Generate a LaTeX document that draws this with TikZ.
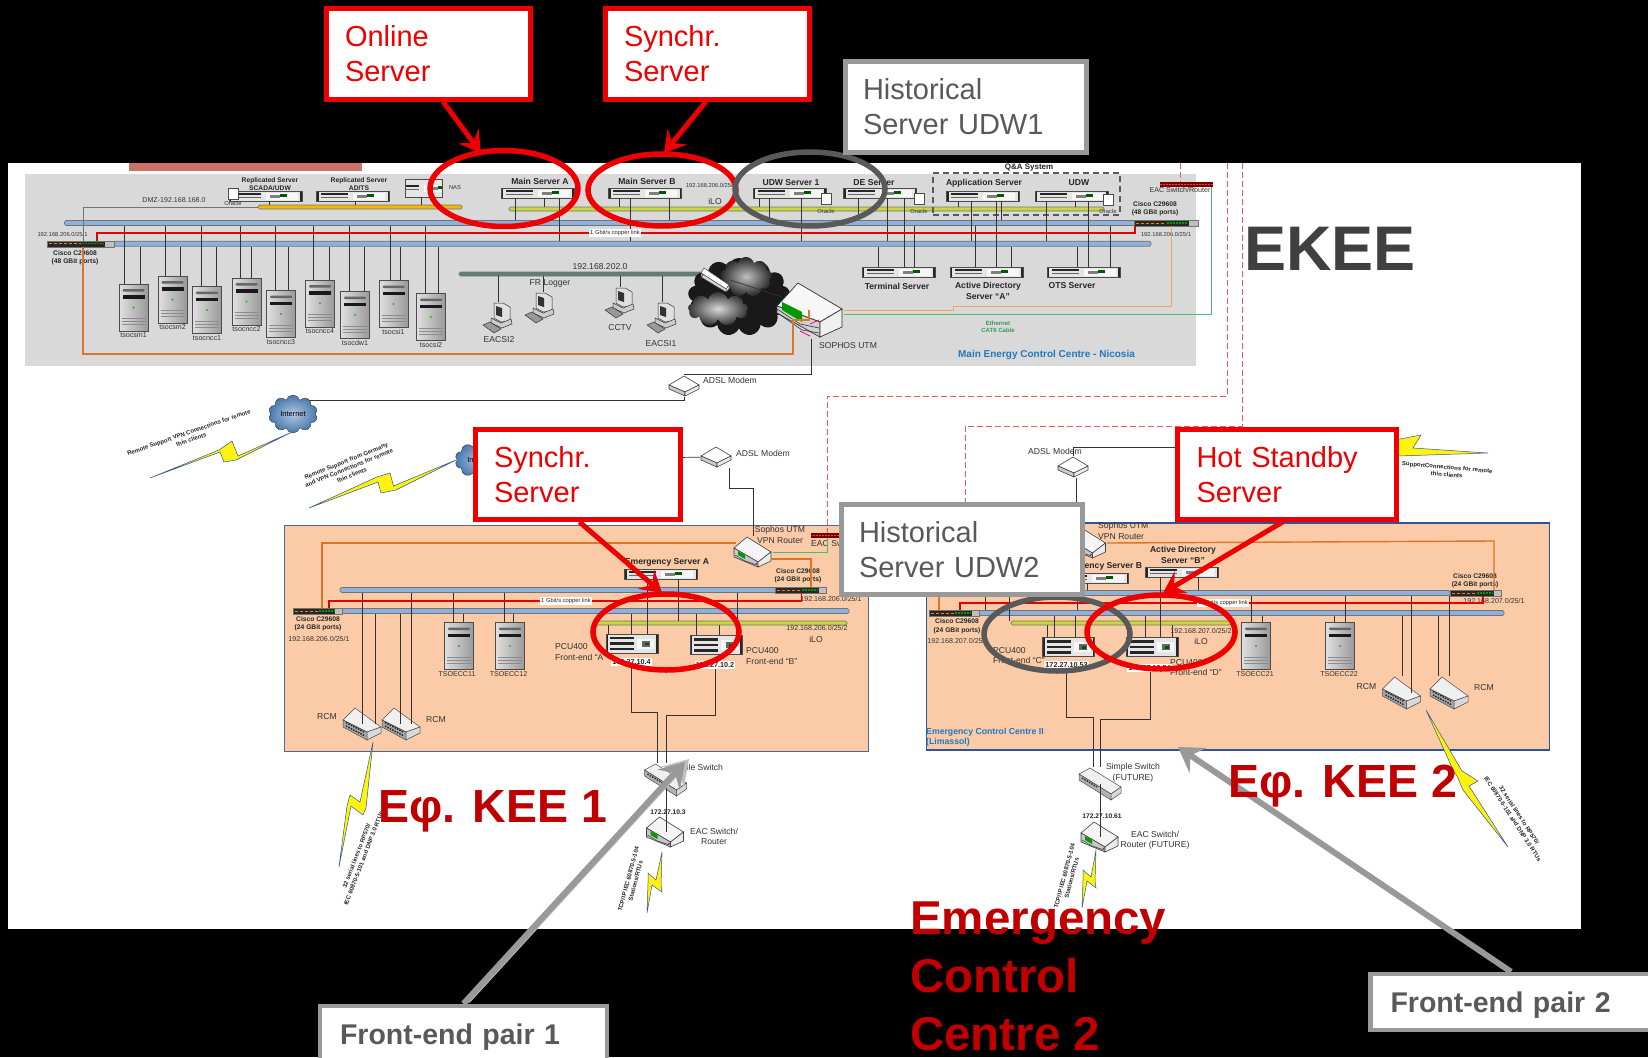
\documentclass[tikz,border=0pt]{standalone}
\usepackage{fontspec}
\setmainfont{Liberation Sans}
\usetikzlibrary{shapes.geometric,shapes.symbols,arrows.meta}
\definecolor{PanelGrey}{RGB}{217,217,217}
\definecolor{PanelPeach}{RGB}{250,203,166}
\definecolor{StripRed}{RGB}{205,112,104}
\definecolor{BusBlue}{RGB}{143,176,218}
\definecolor{BusAmber}{RGB}{245,184,0}
\definecolor{BusLime}{RGB}{200,216,60}
\definecolor{BusSage}{RGB}{95,128,112}
\definecolor{CallRed}{RGB}{238,0,0}
\definecolor{CallGrey}{RGB}{153,153,153}
\definecolor{RingGrey}{RGB}{89,89,89}
\definecolor{BigRed}{RGB}{192,0,0}
\definecolor{TitleBlue}{RGB}{31,120,192}
\definecolor{PanelEdge}{RGB}{47,85,151}
\definecolor{OrangeLine}{RGB}{217,118,42}
\definecolor{PaleOrange}{RGB}{240,165,90}
\definecolor{GreenLine}{RGB}{70,190,120}
\definecolor{DashRed}{RGB}{240,90,90}
\definecolor{CloudBlue}{RGB}{70,120,175}
\newcommand{\drop}[3]{\draw[wire] (#1,0 |- #2) -- (#1,0 |- #3);}
\begin{document}
\begin{tikzpicture}[x=1pt,y=-1pt,
  wire/.style={draw=black!80,line width=.7pt},
  lbl/.style={font=\fontsize{8.6}{10.5}\selectfont,align=center,inner sep=0pt,text=black!80},
  mlbl/.style={font=\fontsize{7.1}{9}\selectfont,align=center,inner sep=0pt,text=black!80},
  slbl/.style={font=\fontsize{5.8}{7}\selectfont,align=center,inner sep=0pt,text=black!80},
  blbl/.style={font=\fontsize{8.6}{10.5}\selectfont\bfseries,align=center,inner sep=0pt,text=black!85},
  sblbl/.style={font=\fontsize{6.7}{8.5}\selectfont\bfseries,align=center,inner sep=0pt,text=black!85},
  zaplbl/.style={font=\fontsize{6}{7.5}\selectfont\bfseries,align=center,inner sep=0pt,text=black!85},
  iplbl/.style={font=\fontsize{7.2}{8}\selectfont\bfseries,fill=white,inner sep=1pt,text=black!85},
  linklbl/.style={font=\fontsize{5.8}{7}\selectfont,fill=white,inner sep=1pt,text=black!85},
  bus/.style={rectangle,draw=black!55,fill=#1,rounded corners=1.5pt,minimum height=5pt,inner sep=0pt,line width=.7pt},
  cisco/.style={rectangle,draw=black!55,fill=black!25,minimum width=#1,minimum height=6pt,inner sep=0pt,
    path picture={\begin{scope}[shift={(path picture bounding box.center)}]
      \fill[black!85] ({-#1/2},-3) rectangle ({#1*.36},3);
      \draw[orange,line width=.8pt,dash pattern=on 3pt off 2pt] ({-#1/2+2},0) -- (0,0);
      \draw[green!60!black,line width=1.5pt,dash pattern=on 2pt off 1pt] (1,0) -- ({#1*.34},0);
    \end{scope}}},
  eacbar/.style={rectangle,fill=red!45!black,minimum height=5pt,inner sep=0pt,
    path picture={\begin{scope}[shift={(path picture bounding box.center)}]
      \draw[red!80,line width=.8pt,dash pattern=on 2pt off 1pt] (-30,0) -- (30,0);
    \end{scope}}},
  rack/.style={rectangle,draw=black!70,fill=black!10,line width=.6pt,minimum width=73pt,minimum height=10pt,inner sep=0pt,
    path picture={\begin{scope}[shift={(path picture bounding box.center)}]
      \fill[black!85] (-36.5,-5) rectangle (-34.5,5);
      \fill[black!85] (34.5,-5) rectangle (36.5,5);
      \fill[black!85] (-32,-3) rectangle (-5,-.6);
      \fill[black!60] (-32,.6) rectangle (-5,2.4);
      \fill[black!3] (0,-3) rectangle (32,3.5);
      \fill[black!50] (4,-1) rectangle (14,2);
      \fill[green!35!black] (14,-2) rectangle (21,1);
    \end{scope}}},
  pcu/.style={rectangle,draw=black!70,fill=black!10,line width=.6pt,minimum width=52pt,minimum height=19pt,inner sep=0pt,
    path picture={\begin{scope}[shift={(path picture bounding box.center)}]
      \fill[black!85] (-26,-9.5) rectangle (-24,9.5);
      \fill[black!85] (24,-9.5) rectangle (26,9.5);
      \fill[black!85] (-22,-7) rectangle (2,-4.5);
      \fill[black!85] (-22,-1.5) rectangle (2,1);
      \fill[black!85] (-22,4) rectangle (2,6.5);
      \fill[black!3] (5,-5) rectangle (22,5);
      \fill[black!60] (10,-3) rectangle (18,3);
      \fill[green!35!black] (13,-1) rectangle (17,1.5);
    \end{scope}}},
  tower/.style={rectangle,draw=black!70,left color=black!12,right color=black!40,line width=.6pt,minimum width=29pt,minimum height=47pt,inner sep=0pt,
    path picture={\begin{scope}[shift={(path picture bounding box.center)}]
      \fill[black!60,rounded corners=1pt] (-11,-18.5) rectangle (11,-16);
      \fill[black!90] (-11,-12.5) rectangle (11,-9);
      \fill[green!80!black] (0,0) circle (1.2);
      \foreach \yy in {11,14,17}{\draw[black!45,line width=.5pt] (-12,\yy) -- (12,\yy);}
    \end{scope}}},
  sswitch/.style={rectangle,minimum width=44pt,minimum height=34pt,inner sep=0pt,
    path picture={\begin{scope}[shift={(path picture bounding box.center)}]
      \filldraw[draw=black!70,fill=black!6,line width=.5pt] (-21,-10) -- (-10,-16) -- (21,3) -- (11,10) -- cycle;
      \filldraw[draw=black!70,fill=black!30,line width=.5pt] (-21,-10) -- (11,10) -- (11,16) -- (-21,-4) -- cycle;
      \filldraw[draw=black!70,fill=black!15,line width=.5pt] (11,10) -- (21,3) -- (21,9) -- (11,16) -- cycle;
      \draw[black!80,line width=1.6pt,dash pattern=on 1.5pt off 1.2pt] (-18,-6) -- (-3,3);
    \end{scope}}},
  gatebox/.style={rectangle,minimum width=30pt,minimum height=26pt,inner sep=0pt,
    path picture={\begin{scope}[shift={(path picture bounding box.center)}]
      \filldraw[draw=black!70,fill=white,line width=.5pt] (-14,-7) -- (-11,-12) -- (14,5) -- (11,9) -- cycle;
      \filldraw[draw=black!70,fill=black!15,line width=.5pt] (-14,-7) -- (11,9) -- (11,12) -- (-14,-3) -- cycle;
      \filldraw[draw=black!70,fill=black!8,line width=.5pt] (11,9) -- (14,5) -- (14,9) -- (11,12) -- cycle;
    \end{scope}}},
  rcmbox/.style={rectangle,minimum width=40pt,minimum height=33pt,inner sep=0pt,
    path picture={\begin{scope}[shift={(path picture bounding box.center)}]
      \filldraw[draw=black!70,fill=black!6,line width=.5pt] (-19,-4) -- (-7,-16) -- (19,3) -- (5,8) -- cycle;
      \filldraw[draw=black!70,fill=black!35,line width=.5pt] (-19,-4) -- (5,8) -- (5,16) -- (-19,3) -- cycle;
      \filldraw[draw=black!70,fill=black!15,line width=.5pt] (5,8) -- (19,3) -- (19,9) -- (5,16) -- cycle;
      \draw[black!85,line width=1.5pt,dash pattern=on 1.5pt off 1.2pt] (-16,-1.5) -- (3,8.5);
      \draw[black!85,line width=1.5pt,dash pattern=on 1.5pt off 1.2pt] (-16,2) -- (3,12);
    \end{scope}}},
  router/.style={rectangle,minimum width=39pt,minimum height=32pt,inner sep=0pt,
    path picture={\begin{scope}[shift={(path picture bounding box.center)}]
      \filldraw[draw=black!75,fill=black!4,line width=.6pt] (-19,-4) -- (-6,-15) -- (18,0) -- (5,10) -- cycle;
      \filldraw[draw=black!75,fill=black!22,line width=.6pt] (-19,-4) -- (5,10) -- (5,15) -- (-19,5) -- cycle;
      \filldraw[draw=black!75,fill=black!8,line width=.6pt] (5,10) -- (18,0) -- (18,9) -- (5,15) -- cycle;
      \fill[green!60!black] (-15,-1) -- (-8,3) -- (-8,7) -- (-15,3) -- cycle;
      \draw[black!80,line width=.5pt] (-18,3) -- (-8,9) -- (4,13);
      \fill[magenta] (3.5,11.5) circle (.9);
    \end{scope}}},
  bigrouter/.style={rectangle,minimum width=68pt,minimum height=58pt,inner sep=0pt,
    path picture={\begin{scope}[shift={(path picture bounding box.center)}]
      \filldraw[draw=black!80,fill=black!3,line width=.7pt] (-33,-4) -- (-12,-27) -- (32,-1) -- (10,12) -- cycle;
      \filldraw[draw=black!80,fill=black!18,line width=.7pt] (-33,-4) -- (10,12) -- (10,27) -- (-33,3) -- cycle;
      \filldraw[draw=black!80,fill=black!6,line width=.7pt] (10,12) -- (32,-1) -- (32,17) -- (10,27) -- cycle;
      \fill[green!60!black] (-28,-8) -- (-8,2) -- (-8,12) -- (-28,0) -- cycle;
      \draw[black!80,line width=.6pt] (-33,-1) -- (-10,14) -- (9,18);
      \draw[black!80,line width=.6pt] (-31,4) -- (-8,20) -- (9,23);
      \draw[magenta,line width=.7pt] (-10,21) -- (0,26);
      \draw[magenta,line width=.7pt] (0,14) -- (9,10);
    \end{scope}}},
  modem/.style={rectangle,minimum width=32pt,minimum height=22pt,inner sep=0pt,
    path picture={\begin{scope}[shift={(path picture bounding box.center)}]
      \filldraw[draw=black!75,fill=white,line width=.6pt] (-15,-1) -- (0,-10) -- (15,-1) -- (1,6) -- cycle;
      \filldraw[draw=black!75,fill=black!20,line width=.6pt] (-15,-1) -- (1,6) -- (1,10) -- (-15,3) -- cycle;
      \filldraw[draw=black!75,fill=black!8,line width=.6pt] (1,6) -- (15,-1) -- (15,3) -- (1,10) -- cycle;
    \end{scope}}},
  pcicon/.style={rectangle,minimum width=32pt,minimum height=31pt,inner sep=0pt,
    path picture={\begin{scope}[shift={(path picture bounding box.center)}]
      \filldraw[draw=black!80,fill=black!12,line width=.5pt] (-4,-15) -- (5,-15) -- (12,-11) -- (12,3) -- (3,4) -- (-4,0) -- cycle;
      \fill[black!80] (-2,-12) -- (4,-10) -- (4,-1) -- (-2,-3) -- cycle;
      \filldraw[draw=black!80,fill=black!20,line width=.5pt] (-7,0) -- (3,5) -- (13,1) -- (14,6) -- (4,10) -- (-7,5) -- cycle;
      \filldraw[draw=black!80,fill=black!40,line width=.5pt] (-15,7) -- (-8,4) -- (3,11) -- (-4,15) -- cycle;
    \end{scope}}},
  dbcyl/.style={cylinder,shape border rotate=90,aspect=.7,draw=black!70,fill=white,line width=.5pt,minimum height=11pt,minimum width=10pt,inner sep=0pt},
  netcloud/.style={cloud,cloud puffs=10,aspect=1.2,draw=black!80,inner color=black!5!CloudBlue!40,outer color=CloudBlue,inner sep=0pt,font=\fontsize{7.5}{9}\selectfont},
  bolt/.style={draw=PanelEdge,fill=yellow!95!white,line width=.5pt,line join=miter},
  dashln/.style={DashRed,line width=1pt,dash pattern=on 6pt off 3pt},
  ringred/.style={ellipse,draw=CallRed,line width=5.5pt,inner sep=0pt},
  ringgrey/.style={ellipse,draw=RingGrey,line width=5.5pt,inner sep=0pt},
  redbox/.style={rectangle,draw=CallRed,line width=5pt,fill=white,text=CallRed,align=left,
    font=\fontsize{29}{35}\selectfont,minimum height=90pt,inner ysep=0pt},
  greybox/.style={rectangle,draw=CallGrey,line width=5pt,fill=white,text=RingGrey,align=left,
    font=\fontsize{29}{35}\selectfont,minimum height=90pt,inner ysep=0pt},
  pairbox/.style={rectangle,draw=CallGrey,line width=4.5pt,fill=white,text=RingGrey,align=left,
    font=\fontsize{28.5}{35}\selectfont\bfseries,minimum height=56pt,minimum width=287pt,inner xsep=18pt,text width=247pt,
    text height=27pt,text depth=6pt},
  redarrow/.style={draw=CallRed,line width=5pt,-{Stealth[length=21pt,width=25pt,inset=8pt]}},
  greyarrow/.style={draw=CallGrey,line width=6pt,-{Stealth[length=24pt,width=30pt,inset=9pt]}},
  bigred/.style={font=\fontsize{46.5}{58}\selectfont\bfseries,text=BigRed,inner sep=0pt,align=left},
]
\useasboundingbox (0,0) rectangle (1648,1057);
\fill[black] (0,0) rectangle (1648,1057);
\fill[white] (8,163) rectangle (1581,929);
\fill[StripRed] (129,163) rectangle (362,171);
\node[fill=PanelGrey,minimum width=1171pt,minimum height=192pt,inner sep=0pt] (panelMain) at (610.5,270) {};
\node[fill=PanelPeach,draw=PanelEdge!60!gray,line width=.8pt,minimum width=584pt,minimum height=226pt,inner sep=0pt] (panelOne) at (576,638) {};
\node[fill=PanelPeach,draw=PanelEdge,line width=1.4pt,minimum width=623pt,minimum height=227pt,inner sep=0pt] (panelTwo) at (1238,636.5) {};
\draw[dashln] (1180,163) -- (1180,184);
\draw[dashln] (1227,163) -- (1227,396) -- (827,396) -- (827,543);
\draw[dashln] (1242,163) -- (1242,426) -- (965,426) -- (965,510);

\node[bus=BusBlue,minimum width=1071pt] (busA) at (600,223) {};
\node[bus=BusBlue,minimum width=1037pt] (busB) at (632.5,243.7) {};
\node[bus=BusAmber,minimum width=204pt,minimum height=4pt] (dmzBus) at (360,207) {};
\node[bus=BusLime,minimum width=595pt,minimum height=4pt] (mainBus) at (806.5,209) {};
\node[bus=BusSage,minimum width=244pt,minimum height=4pt] (lanBus) at (581,274) {};
\node[cisco=67pt] (swTL) at (80.5,243.7) {};
\node[cisco=64pt] (swTR) at (1166,223) {};
\node[eacbar,minimum width=53pt] (eacTop) at (1186.5,184) {};

\node[sblbl] (repSl) at (270,184) {Replicated Server\\SCADA/UDW};
\node[sblbl] (repTl) at (359,184) {Replicated Server\\AD/TS};
\node[rack] (repS) at (265.5,196) {};
\node[rack] (repT) at (353,196) {};
\node[rack,minimum width=37pt,minimum height=18pt] (nas) at (423.5,188) {};
\node[slbl] (nasl) at (455,188) {NAS};
\node[mlbl] (dmzl) at (174,200) {DMZ-192.168.168.0};
\node[dbcyl] (dbRep) at (233,194) {};
\node[slbl] (orRep) at (233,203) {Oracle};
\node[blbl] (mainAl) at (540,181) {Main Server A};
\node[rack] (mainA) at (537.5,193) {};
\node[blbl] (mainBl) at (647,181) {Main Server B};
\node[rack] (mainB) at (645,193) {};
\node[slbl] (iloTl) at (711,185) {192.168.206.0/25/2};
\node[lbl] (iloT) at (715,201) {iLO};
\node[blbl] (udwOl) at (791,183) {UDW Server 1};
\node[rack] (udwO) at (789.5,193) {};
\node[dbcyl] (dbUdw) at (826,199) {};
\node[slbl] (orUdw) at (826,211) {Oracle};
\node[blbl] (deSl) at (874,183) {DE Server};
\node[rack] (deS) at (880,193) {};
\node[dbcyl] (dbDe) at (919,199) {};
\node[slbl] (orDe) at (919,211) {Oracle};
\node[draw=black!65,line width=1.2pt,dash pattern=on 6pt off 4pt,minimum width=187pt,minimum height=42pt,inner sep=0pt] (qaBox) at (1026.5,194) {};
\node[sblbl,font=\fontsize{8}{9}\selectfont\bfseries] (qaLbl) at (1029,168) {Q\&A System};
\node[blbl] (appSl) at (984,183) {Application Server};
\node[rack] (appS) at (983,196) {};
\node[blbl] (udwQl) at (1079,183) {UDW};
\node[rack] (udwQ) at (1071.5,196) {};
\node[dbcyl] (dbQ) at (1108,200) {};
\node[slbl] (orQ) at (1108,211) {Oracle};
\node[mlbl] (eacTopl) at (1180,190) {EAC Switch/Router};
\node[sblbl] (ciscoTRl) at (1155,209) {Cisco C29608\\(48 GBit ports)};
\node[slbl] (ipTR) at (1166,234) {192.168.206.0/25/1};
\node[slbl] (ipTL) at (62.5,234) {192.168.206.0/25/1};
\node[sblbl] (ciscoTLl) at (75,258) {Cisco C29608\\(48 GBit ports)};
\node[rack] (termS) at (898.5,272) {};
\node[blbl] (termSl) at (897,286) {Terminal Server};
\node[rack] (adA) at (986.5,272) {};
\node[blbl] (adAl) at (988,291) {Active Directory\\Server ``A''};
\node[rack] (otsS) at (1083.5,272) {};
\node[blbl] (otsSl) at (1072,286) {OTS Server};

\foreach \nm/\lb/\cx/\cy/\xa/\xb in {
  tsocsmA/tsocsm1/133.5/307.5/124/140,
  tsocsmB/tsocsm2/172.5/299.5/165/180,
  tsocnccA/tsocncc1/207/310/201/216,
  tsocnccB/tsocncc2/246.5/301.5/240/251,
  tsocnccC/tsocncc3/281/314/275.6/288,
  tsocnccD/tsocncc4/320/303.5/313/329,
  tsocdwA/tsocdw1/355/315/349.5/364,
  tsocsiA/tsocsi1/393.5/304/390/400.5,
  tsocsiB/tsocsi2/431/317/425/438}{
  \node[tower] (\nm) at (\cx,\cy) {};
  \node[mlbl,anchor=north,yshift=-1.5pt] (\nm-l) at (\nm.south) {\lb};
  \drop{\xa}{busA.south}{\nm.north}
  \drop{\xb}{busB.south}{\nm.north}
}

\node[lbl] (lanl) at (600,267) {192.168.202.0};
\node[lbl] (frLogl) at (550,283) {FR Logger};
\node[pcicon] (eacsiB) at (498,318) {};
\node[lbl] (eacsiBl) at (499,340) {EACSI2};
\node[pcicon] (frLog) at (540,308) {};
\node[pcicon] (cctv) at (620,303) {};
\node[lbl] (cctvl) at (620,328) {CCTV};
\node[pcicon] (eacsiA) at (662,318) {};
\node[lbl] (eacsiAl) at (661,344) {EACSI1};

\node[cloud,cloud puffs=13,aspect=1.3,fill=black!90,minimum width=102pt,minimum height=78pt,inner sep=0pt] (darkCloud) at (739,297) {};
\node[cloud,cloud puffs=9,aspect=1.2,inner color=black!25,outer color=black!85,minimum width=52pt,minimum height=40pt,inner sep=0pt] (darkTop) at (746,277) {};
\node[cloud,cloud puffs=9,aspect=1.4,inner color=black!15,outer color=black!80,minimum width=60pt,minimum height=34pt,inner sep=0pt] (darkLow) at (718,309) {};
\node[gatebox] (gate) at (715,280) {};
\node[bigrouter] (utm) at (810,310) {};
\node[lbl] (utml) at (848,346) {SOPHOS UTM};
\node[font=\fontsize{6}{7.2}\selectfont\bfseries,text=GreenLine!80!black,align=center,inner sep=0pt] (ethl) at (998,327) {Ethernet\\CAT6 Cable};
\node[font=\fontsize{10}{12}\selectfont\bfseries,text=TitleBlue,inner sep=0pt] (mainTitle) at (1046.5,355) {Main Energy Control Centre - Nicosia};

\foreach \xx/\aa/\bb in {
  269/repS.south/dmzBus.north, 355/repT.south/dmzBus.north, 421.5/nas.south/dmzBus.north,
  515/mainA.south/busA.north, 544.5/mainA.south/mainBus.north, 559/mainA.south/busB.north,
  619/mainB.south/mainBus.north, 630/mainB.south/busB.north, 669/mainB.south/busA.north,
  759/udwO.south/mainBus.north, 769/udwO.south/busA.north, 801/udwO.south/busB.north,
  858/deS.south/busA.north, 887/deS.south/busB.north, 904/deS.south/termS.north,
  958/appS.south/mainBus.north, 971/appS.south/busB.north, 996/appS.south/adA.north, 1001/appS.south/busA.north,
  1046.5/udwQ.south/busB.north, 1075/udwQ.south/mainBus.north, 1088/udwQ.south/otsS.north,
  878/busB.south/termS.north, 914/busA.south/termS.north, 975/busA.south/adA.north, 1011/busB.south/adA.north,
  1077.5/busB.south/otsS.north, 1110/busA.south/otsS.north,
  498/lanBus.south/eacsiB.north, 543/lanBus.south/frLog.north, 620/lanBus.south/cctv.north, 662/lanBus.south/eacsiA.north}{
  \drop{\xx}{\aa}{\bb}
}
\draw[wire,draw=black!55,line width=.9pt] (dmzBus.west) -| (83,0 |- swTL.north);
\draw[OrangeLine,line width=1.4pt] (83,0 |- swTL.south) -- (83,354) -- (793,354) -- (793,320) -- (809,320) -- (809,310);
\draw[red!90!black,line width=1.1pt] (97,0 |- swTL.north) |- (1135,233) -- (1135,0 |- swTR.south);
\node[linklbl] (linkT) at (615,233) {1 Gbit/s copper link};
\draw[PaleOrange,line width=.9pt] (utm.east) -- (953,310) -- (953,306) -- (1171,306) -- (1171,0 |- swTR.south);
\draw[GreenLine,line width=1pt] ([yshift=-4pt]utm.east) -| (1211,0 |- eacTop.south);
\draw[wire] (lanBus.east) -- (gate.west);
\draw[wire] (gate.east) -- (782,297);

\node[modem] (modemA) at (684,386) {};
\node[lbl] (modemAl) at (730,380) {ADSL Modem};
\node[netcloud,minimum width=49pt,minimum height=38pt] (cloudA) at (293,414) {Internet};
\draw[wire] (811,0 |- utm.south) |- (modemA.north);
\draw[wire] (modemA.south) |- (cloudA.north east);
\draw[bolt] (150,478) -- (219,450) -- (232,441) -- (238,456) -- (292,432) -- (236,460) -- (224,462) -- (220,452) -- cycle;
\node[zaplbl,rotate=19] (zapAl) at (190,436) {Remote Support  VPN Connections for remote\\thin clients};

\node[netcloud,minimum width=50pt,minimum height=32pt] (cloudB) at (480,460) {Internet};
\draw[bolt] (309,508) -- (377,477) -- (390,473) -- (393.5,486) -- (456,460) -- (396,490) -- (381,493) -- (378,482) -- cycle;
\node[zaplbl,rotate=22] (zapBl) at (349,468) {Remote Support from Germany\\and VPN Connections for remote\\thin clients};
\node[modem] (modemB) at (716,457) {};
\node[lbl] (modemBl) at (763,453) {ADSL Modem};
\draw[wire] (cloudB) -- (modemB);

\node[bus=BusBlue,minimum width=437pt] (busC) at (558.5,590) {};
\node[bus=BusBlue,minimum width=507pt] (busD) at (595.5,611) {};
\node[cisco=51pt] (swCR) at (800.5,590) {};
\node[cisco=49pt] (swCL) at (317.5,611) {};
\node[bus=BusLime,minimum width=251pt,minimum height=4pt] (iloC) at (721.5,623) {};
\node[eacbar,minimum width=28pt] (eacC) at (825,535) {};
\node[lbl,anchor=west] (eacCl) at (811,543) {EAC Switch/Router};
\node[router] (rtrC) at (753,552) {};
\node[lbl] (rtrCl) at (780,535) {Sophos UTM\\VPN Router};
\node[blbl] (emAl) at (667,562) {Emergency Server A};
\node[rack] (emA) at (661,574) {};
\node[sblbl] (ciscoCRl) at (798,576) {Cisco C29608\\(24 GBit ports)};
\node[mlbl] (ipCR) at (831,599) {192.168.206.0/25/1};
\node[sblbl] (ciscoCLl) at (318,624) {Cisco C29608\\(24 GBit ports)};
\node[mlbl] (ipCL) at (319,639) {192.168.206.0/25/1};
\node[mlbl] (iloCl) at (817,628) {192.168.206.0/25/2};
\node[lbl] (iloCt) at (816,639) {iLO};
\node[pcu] (pcuA) at (632,643.5) {};
\node[pcu] (pcuB) at (716,645) {};
\node[lbl,align=left,anchor=west] (pcuAl) at (555,652) {PCU400\\Front-end ``A''};
\node[lbl,align=left,anchor=west] (pcuBl) at (746,656) {PCU400\\Front-end ``B''};
\node[iplbl] (ipA) at (631.5,662) {172.27.10.4};
\node[iplbl] (ipB) at (715,665) {172.27.10.2};
\node[tower] (eccA) at (459,646) {};
\node[mlbl] (eccAl) at (457,674) {TSOECC11};
\node[tower] (eccB) at (510,646) {};
\node[mlbl] (eccBl) at (508.5,674) {TSOECC12};
\node[rcmbox] (rcmA) at (362,724) {};
\node[rcmbox] (rcmB) at (401,724) {};
\node[lbl] (rcmAl) at (327,717) {RCM};
\node[lbl] (rcmBl) at (436,720) {RCM};
\node[sswitch] (swS) at (665.5,780) {};
\node[lbl] (swSl) at (696,768) {Simple Switch};
\node[sblbl] (ipS) at (668,812) {172.27.10.3};
\node[router] (rtA) at (665.5,832) {};
\node[lbl] (rtAl) at (714,836.5) {EAC Switch/\\Router};

\foreach \xx/\aa/\bb in {
  362/busC.south/rcmA.center, 375.6/busD.south/rcmA.center, 400.5/busD.south/rcmB.center, 411/busC.south/rcmB.center,
  453/busC.south/eccA.north, 463/busD.south/eccA.north, 504.5/busC.south/eccB.north, 513/busD.south/eccB.north,
  608/iloC.south/pcuA.north, 631/busD.south/pcuA.north, 647/emA.south/pcuA.north,
  696.5/busD.south/pcuB.north, 719/iloC.south/pcuB.north, 737/busC.south/pcuB.north,
  678.6/emA.south/iloC.north, 666/swS.center/rtA.center}{
  \drop{\xx}{\aa}{\bb}
}
\draw[OrangeLine,line width=1.4pt] (736,543) -- (322,543) -- (322,0 |- swCL.north);
\draw[OrangeLine,line width=1.4pt] (771,559) -| (811,0 |- swCR.north);
\draw[GreenLine,line width=.9pt] (rtrC.east) -- (827,552) -- (827,0 |- eacC.south);
\draw[red!90!black,line width=1.1pt] (329,0 |- swCL.north) |- (801.5,601) -- (801.5,0 |- swCR.south);
\node[linklbl] (linkC) at (566,601) {1 Gbit/s copper link};
\draw[wire] (729,0 |- modemB.south) |- (753,488) -- (rtrC.north);
\draw[wire] (631,0 |- ipA.south) |- (657,712) -- (657,0 |- swS.north);
\draw[wire] (715.5,0 |- ipB.south) |- (666,715) -- (666,0 |- swS.north);
\draw[bolt] (339,867) -- (347,806) -- (350,795) -- (360,802) -- (373,742) -- (366,808) -- (363,815) -- (351,806) -- cycle;
\node[zaplbl,rotate=69] (zapCl) at (360,857) {32 serial lines to RP570/\\IEC 60870-5-101 and DNP 3.0 RTUs};
\draw[bolt] (647,913) -- (648,883) -- (648,873) -- (656,880) -- (662,852) -- (661,885) -- (662,892) -- (652,885) -- cycle;
\node[zaplbl,rotate=75] (zapDl) at (632,880) {TCP/IP IEC 60870-5-104\\Stations/RTUs};

\node[bus=BusBlue,minimum width=450pt] (busE) at (1225,593) {};
\node[bus=BusBlue,minimum width=525pt] (busF) at (1241.5,613) {};
\node[cisco=51pt] (swER) at (1475.5,593) {};
\node[cisco=50pt] (swEL) at (954,613) {};
\node[bus=BusLime,minimum width=220pt,minimum height=4pt] (iloE) at (1121,623) {};
\node[router] (rtrE) at (1087.5,543) {};
\node[lbl,align=left,anchor=west] (rtrEl) at (1098,531) {Sophos UTM\\VPN Router};
\node[blbl] (emBl) at (1100,566) {Emergency Server B};
\node[rack] (emB) at (1092,578) {};
\node[blbl] (adBl) at (1183,555) {Active Directory\\Server ``B''};
\node[rack] (adB) at (1182,572) {};
\node[sblbl] (ciscoERl) at (1475,581) {Cisco C29608\\(24 GBit ports)};
\node[mlbl] (ipER) at (1494,601) {192.168.207.0/25/1};
\node[sblbl] (ciscoELl) at (957,626.5) {Cisco C29608\\(24 GBit ports)};
\node[mlbl] (ipEL) at (958,641) {192.168.207.0/25/1};
\node[mlbl] (iloEl) at (1201,631) {192.168.207.0/25/2};
\node[lbl] (iloEt) at (1201,641) {iLO};
\node[pcu] (pcuC) at (1068.5,647) {};
\node[pcu] (pcuD) at (1152,647) {};
\node[lbl,align=left,anchor=west] (pcuCl) at (993,655.5) {PCU400\\Front-end ``C''};
\node[lbl,align=left,anchor=west] (pcuDl) at (1170,667.5) {PCU400\\Front-end ``D''};
\node[iplbl] (ipC) at (1066.5,665) {172.27.10.53};
\node[iplbl] (ipD) at (1149.5,668) {172.27.10.54};
\node[tower] (eccC) at (1256,646) {};
\node[mlbl] (eccCl) at (1255,674) {TSOECC21};
\node[tower] (eccD) at (1340,646) {};
\node[mlbl] (eccDl) at (1339,674) {TSOECC22};
\node[rcmbox] (rcmC) at (1401.5,693) {};
\node[rcmbox] (rcmD) at (1449,693) {};
\node[lbl] (rcmCl) at (1366.5,687) {RCM};
\node[lbl] (rcmDl) at (1484,688) {RCM};
\node[font=\fontsize{8.7}{10.5}\selectfont\bfseries,text=TitleBlue,align=left,anchor=west,inner sep=0pt] (emTitle) at (926,737) {Emergency Control Centre II\\(Limassol)};
\node[modem] (modemC) at (1073,467) {};
\node[lbl] (modemCl) at (1055,451) {ADSL Modem};
\coordinate (hotIn) at (1200,447);
\node[sswitch] (swF) at (1100,784) {};
\node[lbl] (swFl) at (1133,773) {Simple Switch\\(FUTURE)};
\node[sblbl] (ipF) at (1102,816) {172.27.10.61};
\node[router] (rtB) at (1100,837) {};
\node[lbl] (rtBl) at (1155,840.5) {EAC Switch/\\Router (FUTURE)};

\foreach \xx/\aa/\bb in {
  1047/iloE.south/pcuC.north, 1054/busF.south/pcuC.north, 1075/busF.south/pcuC.north,
  1145.5/busF.south/pcuD.north, 1160/adB.south/pcuD.north, 1172/iloE.south/pcuD.north,
  1198/adB.south/busE.north, 1077/busF.north/emB.south, 1087.5/busE.north/emB.south,
  985/swEL.north/busE.north, 1009/iloE.north/busE.north,
  1251/busE.south/eccC.north, 1262/busF.south/eccC.north, 1334/busF.south/eccD.north, 1345/busE.south/eccD.north,
  1402/busF.south/rcmC.north, 1411.6/busE.south/rcmC.center, 1438/busF.south/rcmD.north, 1449/busE.south/rcmD.north,
  1100/swF.center/rtB.center, 1076/modemC.south/rtrE.north}{
  \drop{\xx}{\aa}{\bb}
}
\draw[OrangeLine,line width=1.4pt] (rtrE.east) -- (1494,541) -- (1494,0 |- swER.north);
\draw[OrangeLine,line width=1.4pt] (939,0 |- swEL.north) -- (939,590);
\draw[red!90!black,line width=1.1pt] (960,0 |- swEL.north) |- (1483,603) -- (1483,0 |- swER.south);
\node[linklbl] (linkE) at (1223,603) {1 Gbit/s copper link};
\draw[wire] (modemC.north) |- (hotIn);
\draw[wire] (1066.5,0 |- ipC.south) |- (1093,717) -- (1093,0 |- swF.north);
\draw[wire] (1150,0 |- ipD.south) |- (1100,719) -- (1100,0 |- swF.north);
\draw[bolt] (1082,908) -- (1083,880) -- (1083,870) -- (1091,877) -- (1096,850) -- (1095,881) -- (1096,888) -- (1087,881) -- cycle;
\node[zaplbl,rotate=75] (zapEl) at (1068,877) {TCP/IP IEC 60870-5-104\\Stations/RTUs};
\draw[bolt] (1426,710) -- (1462,771) -- (1478,781) -- (1469,786) -- (1508,847) -- (1463,790) -- (1457,776) -- (1454,772) -- cycle;
\node[zaplbl,rotate=-57] (zapFl) at (1516,817) {32 serial lines to RP570/\\IEC 60870-5-101 and DNP 3.0 RTUs};
\draw[bolt] (1330,490) -- (1395,440) -- (1421,435) -- (1413,448) -- (1488,453) -- (1398,456) -- (1385,460) -- cycle;
\node[zaplbl,rotate=-5] (zapGl) at (1447,471) {SupportConnections for remote\\thin clients};

\node[ringred,minimum width=148pt,minimum height=76pt] (ringOnline) at (504,188.5) {};
\node[ringred,minimum width=148pt,minimum height=72pt] (ringSyncA) at (662,190) {};
\node[ringgrey,minimum width=150pt,minimum height=74pt] (ringUdwA) at (810,189) {};
\node[ringred,minimum width=146pt,minimum height=76pt] (ringSyncB) at (666,632) {};
\node[ringgrey,minimum width=146pt,minimum height=74pt] (ringUdwB) at (1057,634) {};
\node[ringred,minimum width=148pt,minimum height=74pt] (ringHot) at (1161,632) {};

\node[redbox,minimum width=204pt,text width=166pt,inner xsep=19pt] (boxOnline) at (428,54) {Online\\Server};
\node[redbox,minimum width=204pt,text width=166pt,inner xsep=19pt] (boxSyncA) at (707,54) {Synchr.\\Server};
\node[greybox,minimum width=241pt,text width=205pt,inner xsep=18pt] (boxUdwA) at (965.5,107) {Historical\\Server UDW1};
\node[redbox,minimum width=205pt,text width=167pt,inner xsep=19pt] (boxSyncB) at (577.5,474.5) {Synchr.\\Server};
\node[greybox,minimum width=241pt,text width=205pt,inner xsep=18pt] (boxUdwB) at (961.5,549.5) {Historical\\Server UDW2};
\node[redbox,minimum width=219pt,text width=180pt,inner xsep=19pt] (boxHot) at (1286.5,474.5) {Hot Standby\\Server};
\coordinate (tipOnline) at (481,153);
\coordinate (tipSyncA) at (664,153);
\coordinate (tipSyncB) at (662,593);
\coordinate (tipHot) at (1163,593);
\draw[redarrow] ([xshift=15pt]boxOnline.south) -- (tipOnline);
\draw[redarrow] ([xshift=-1pt]boxSyncA.south) -- (tipSyncA);
\draw[redarrow] ([xshift=2pt]boxSyncB.south) -- (tipSyncB);
\draw[redarrow] ([xshift=-4pt]boxHot.south) -- (tipHot);

\node[font=\fontsize{63}{70}\selectfont\bfseries,text=black!75,inner sep=0pt,anchor=base west] (titleMain) at (1244,270) {ΕΚΕΕ};
\node[pairbox] (pairOne) at (463.5,1034) {Front-end pair 1};
\node[pairbox] (pairTwo) at (1514,1002) {Front-end pair 2};
\coordinate (tipPairOne) at (685,762);
\coordinate (tipPairTwo) at (1178,747);
\draw[greyarrow,draw=black!25] ([xshift=4pt,yshift=3pt]pairOne.north) -- ([xshift=4pt,yshift=3pt]tipPairOne);
\draw[greyarrow] (pairOne.north) -- (tipPairOne);
\draw[greyarrow] ([xshift=-3pt]pairTwo.north) -- (tipPairTwo);
\node[bigred,anchor=base west] (titleOne) at (378,822) {Εφ. ΚΕΕ 1};
\node[bigred,anchor=base west] (titleTwo) at (1228,797) {Εφ. ΚΕΕ 2};
\node[bigred,anchor=west,font=\fontsize{47.5}{58}\selectfont\bfseries] (titleCentre) at (910,976) {Emergency\\Control\\Centre 2};
\end{tikzpicture}
\end{document}
